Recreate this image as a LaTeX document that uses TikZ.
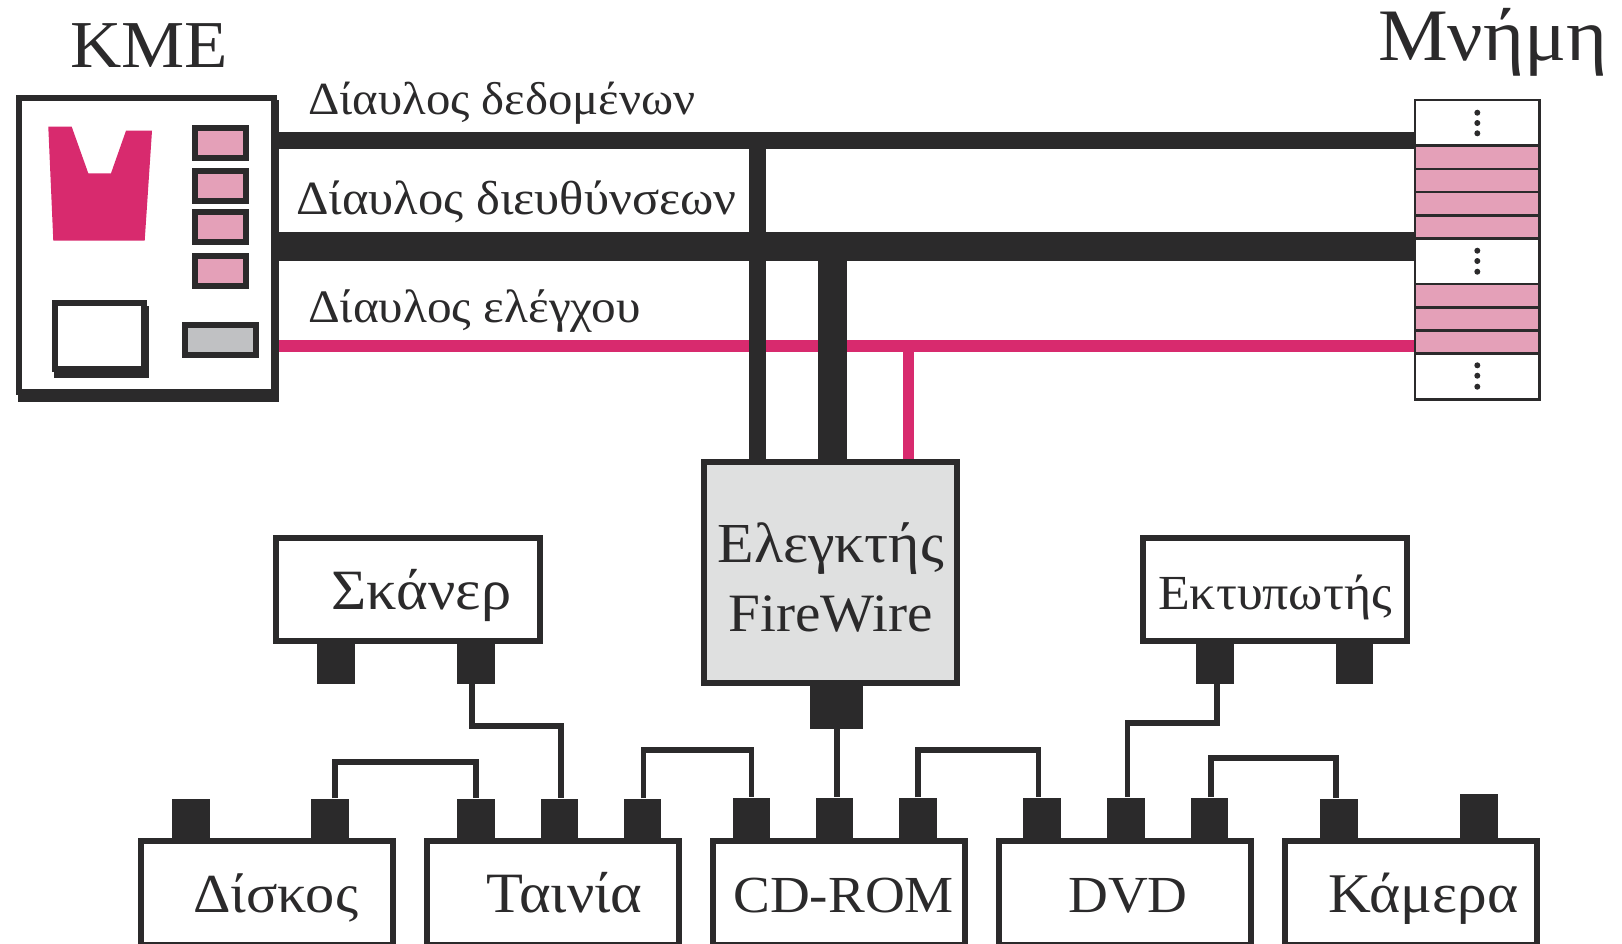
\documentclass[tikz,border=0pt]{standalone}
\usepackage{fontspec}
\setmainfont[FakeStretch=1.06]{Liberation Serif}
\usetikzlibrary{positioning}
\definecolor{inkdark}{HTML}{2B2A2B}
\definecolor{crimson}{HTML}{D82A6E}
\definecolor{rosecell}{HTML}{E4A0B8}
\definecolor{greyreg}{HTML}{C0C1C3}
\definecolor{greyctrl}{HTML}{DFE0E0}
\newcommand{\fsz}[1]{\fontsize{#1}{69}\selectfont}
\begin{document}
\begin{tikzpicture}[
 x=1pt,y=-1pt,
 node distance=28pt and 28pt,
 every node/.style={text=inkdark,inner sep=0pt},
 box/.style={draw=inkdark,line width=6pt,fill=white},
 device/.style={box,minimum width=252pt,minimum height=104.5pt,text height=40pt,text depth=0pt},
 periph/.style={box,minimum height=103pt,text height=41pt,text depth=0pt},
 reg/.style={box,fill=rosecell,minimum width=50.5pt,minimum height=30pt},
 shade/.style={fill=inkdark,minimum width=0pt},
 port/.style={fill=inkdark,minimum width=37.7pt,minimum height=41pt},
 bigtitle/.style={anchor=base west},
 buslabel/.style={anchor=base west},
 cell/.style={draw=inkdark,line width=2.8pt,outer sep=0pt,minimum width=124.7pt,minimum height=45.8pt,fill=white},
 pinkcell/.style={cell,fill=rosecell,minimum height=23.1pt},
 dot/.style={circle,fill=inkdark,minimum size=6pt},
 bus/.style={draw=inkdark},
 wire/.style={draw=inkdark,line width=5.8pt,line join=miter}
]
\path[use as bounding box,fill=white] (0,0) rectangle (1622,943);

\node[bigtitle,font=\fsz{67}] (kme) at (70,67.7) {KME};
\node[bigtitle,font=\fsz{74}] (mnimi) at (1378,60) {Μνήμη};

\node[shade,minimum width=261pt,minimum height=302pt] (cpushade) at (148.5,251) {};
\node[box,minimum width=255pt,minimum height=293.7pt] (cpu) at (146,244.85) {};
\fill[crimson] (48.3,126.7) -- (71.7,126.7) -- (88.3,173.3) -- (111,173.3) -- (126,130.7) -- (152,130.7) -- (144.7,240.7) -- (53.3,240.7) -- cycle;
\node[reg] (reg1) at (220.7,143) {};
\node[reg] (reg2) at (220.7,186.2) {};
\node[reg] (reg3) at (220.7,227.3) {};
\node[reg] (reg4) at (220.7,270.5) {};
\node[box,fill=greyreg,minimum width=71.3pt,minimum height=30.3pt] (flags) at (220.2,339.7) {};
\node[shade,minimum width=95.3pt,minimum height=72.3pt] (unitshade) at (101.6,342.2) {};
\node[box,minimum width=89.5pt,minimum height=66.1pt] (unit) at (99.25,336.4) {};

\node[cell] (mem1) at (1477.3,122.9) {};
\node[pinkcell,below=0pt of mem1] (mem2) {};
\node[pinkcell,below=0pt of mem2] (mem3) {};
\node[pinkcell,below=0pt of mem3] (mem4) {};
\node[pinkcell,below=0pt of mem4] (mem5) {};
\node[cell,below=0pt of mem5] (mem6) {};
\node[pinkcell,below=0pt of mem6] (mem7) {};
\node[pinkcell,below=0pt of mem7] (mem8) {};
\node[pinkcell,below=0pt of mem8] (mem9) {};
\node[cell,below=0pt of mem9] (mem10) {};
\node[dot] (dota1) at (1477.3,112.7) {};
\node[dot] (dota2) at (1477.3,123) {};
\node[dot] (dota3) at (1477.3,133.3) {};
\node[dot] (dotb1) at (1477.3,250.7) {};
\node[dot] (dotb2) at (1477.3,261) {};
\node[dot] (dotb3) at (1477.3,271.7) {};
\node[dot] (dotc1) at (1477.3,365.3) {};
\node[dot] (dotc2) at (1477.3,375.7) {};
\node[dot] (dotc3) at (1477.3,386.7) {};

\node[box,fill=greyctrl,minimum width=252.5pt,minimum height=220.8pt,align=center,
      text height=118.5pt,text depth=0pt,font=\fsz{54}] (fw) at (830.7,572.4) {{\fsz{56.5}Ελεγκτής}\\FireWire};

\coordinate (databus) at (757.3,140);
\coordinate (addrbus) at (832.7,246.6);
\coordinate (ctrlbus) at (908.5,346);
\draw[draw=crimson,line width=12pt] (cpushade.east |- ctrlbus) -- ([xshift=-1.4pt]mem9.west |- ctrlbus);
\draw[draw=crimson,line width=11.7pt] (ctrlbus) -- (ctrlbus |- fw.north);
\draw[bus,line width=17pt] (cpushade.east |- databus) -- ([xshift=-1.4pt]mem2.west |- databus);
\draw[bus,line width=28.7pt] (cpushade.east |- addrbus) -- ([xshift=-1.4pt]mem5.west |- addrbus);
\draw[bus,line width=17.3pt] (databus) -- (databus |- fw.north);
\draw[bus,line width=29.3pt] (addrbus) -- (addrbus |- fw.north);

\node[buslabel,font=\fsz{46}] (datalabel) at (308,114) {Δίαυλος δεδομένων};
\node[buslabel,font=\fsz{47.7}] (addrlabel) at (296,214) {Δίαυλος διευθύνσεων};
\node[buslabel,font=\fsz{46.5}] (ctrllabel) at (308,322) {Δίαυλος ελέγχου};

\node[device,font=\fsz{55}] (disk) at (266.6,892.75) {\hspace*{18.2pt}Δίσκος};
\node[device,font=\fsz{57},right=of disk] (tape) {\hspace*{23.4pt}Ταινία};
\node[device,font=\fsz{52},right=of tape] (cdrom) {\hspace*{10pt}CD-ROM};
\node[device,font=\fsz{52},right=of cdrom] (dvd) {\hspace*{6.6pt}DVD};
\node[device,font=\fsz{56},right=of dvd] (camera) {\hspace*{26pt}Κάμερα};
\node[periph,font=\fsz{57},minimum width=264.5pt] (scanner) at (407.75,589) {\hspace*{27.5pt}Σκάνερ};
\node[periph,font=\fsz{49},minimum width=264.6pt] (printer) at (1275,589) {Εκτυπωτής};

\node[port] (scanner1) at (336,663) {};
\node[port] (scanner2) at (476,663) {};
\node[port] (printer1) at (1215.2,663) {};
\node[port] (printer2) at (1354.4,663) {};
\node[port,minimum width=52.4pt,minimum height=44pt] (fwport) at (836.5,706.5) {};
\node[port] (disk1) at (190.7,819) {};
\node[port] (disk2) at (330.2,819) {};
\node[port] (tape1) at (476,819) {};
\node[port] (tape2) at (559.5,819) {};
\node[port] (tape3) at (642.5,819) {};
\node[port] (cdrom1) at (751.5,818) {};
\node[port] (cdrom2) at (834.5,818) {};
\node[port] (cdrom3) at (918,818) {};
\node[port] (dvd1) at (1042,818) {};
\node[port] (dvd2) at (1125.8,818) {};
\node[port] (dvd3) at (1209.4,818) {};
\node[port] (camera1) at (1339,819) {};
\node[port,minimum height=45pt] (camera2) at (1478.7,816.5) {};

\draw[wire] ([xshift=-4pt]scanner2.south) |- ++(10,42) -| ([xshift=1.8pt]tape2.north);
\draw[wire] ([xshift=5pt]disk2.north) |- ++(10,-36.1) -| ([xshift=-.4pt]tape1.north);
\draw[wire] ([xshift=1pt]tape3.north) |- ++(10,-48) -| (cdrom1.north);
\draw[wire] (cdrom3.north) |- ++(10,-47) -| ([xshift=-3.6pt]dvd1.north);
\draw[wire] ([xshift=1.6pt]printer1.south) |- ++(-10,39.3) -| ([xshift=1.6pt]dvd2.north);
\draw[wire] ([xshift=1.6pt]dvd3.north) |- ++(10,-39) -| ([xshift=-3.3pt]camera1.north);
\draw[wire,line width=6pt] (fwport.south) -- (fwport.south |- cdrom2.north);
\end{tikzpicture}
\end{document}
